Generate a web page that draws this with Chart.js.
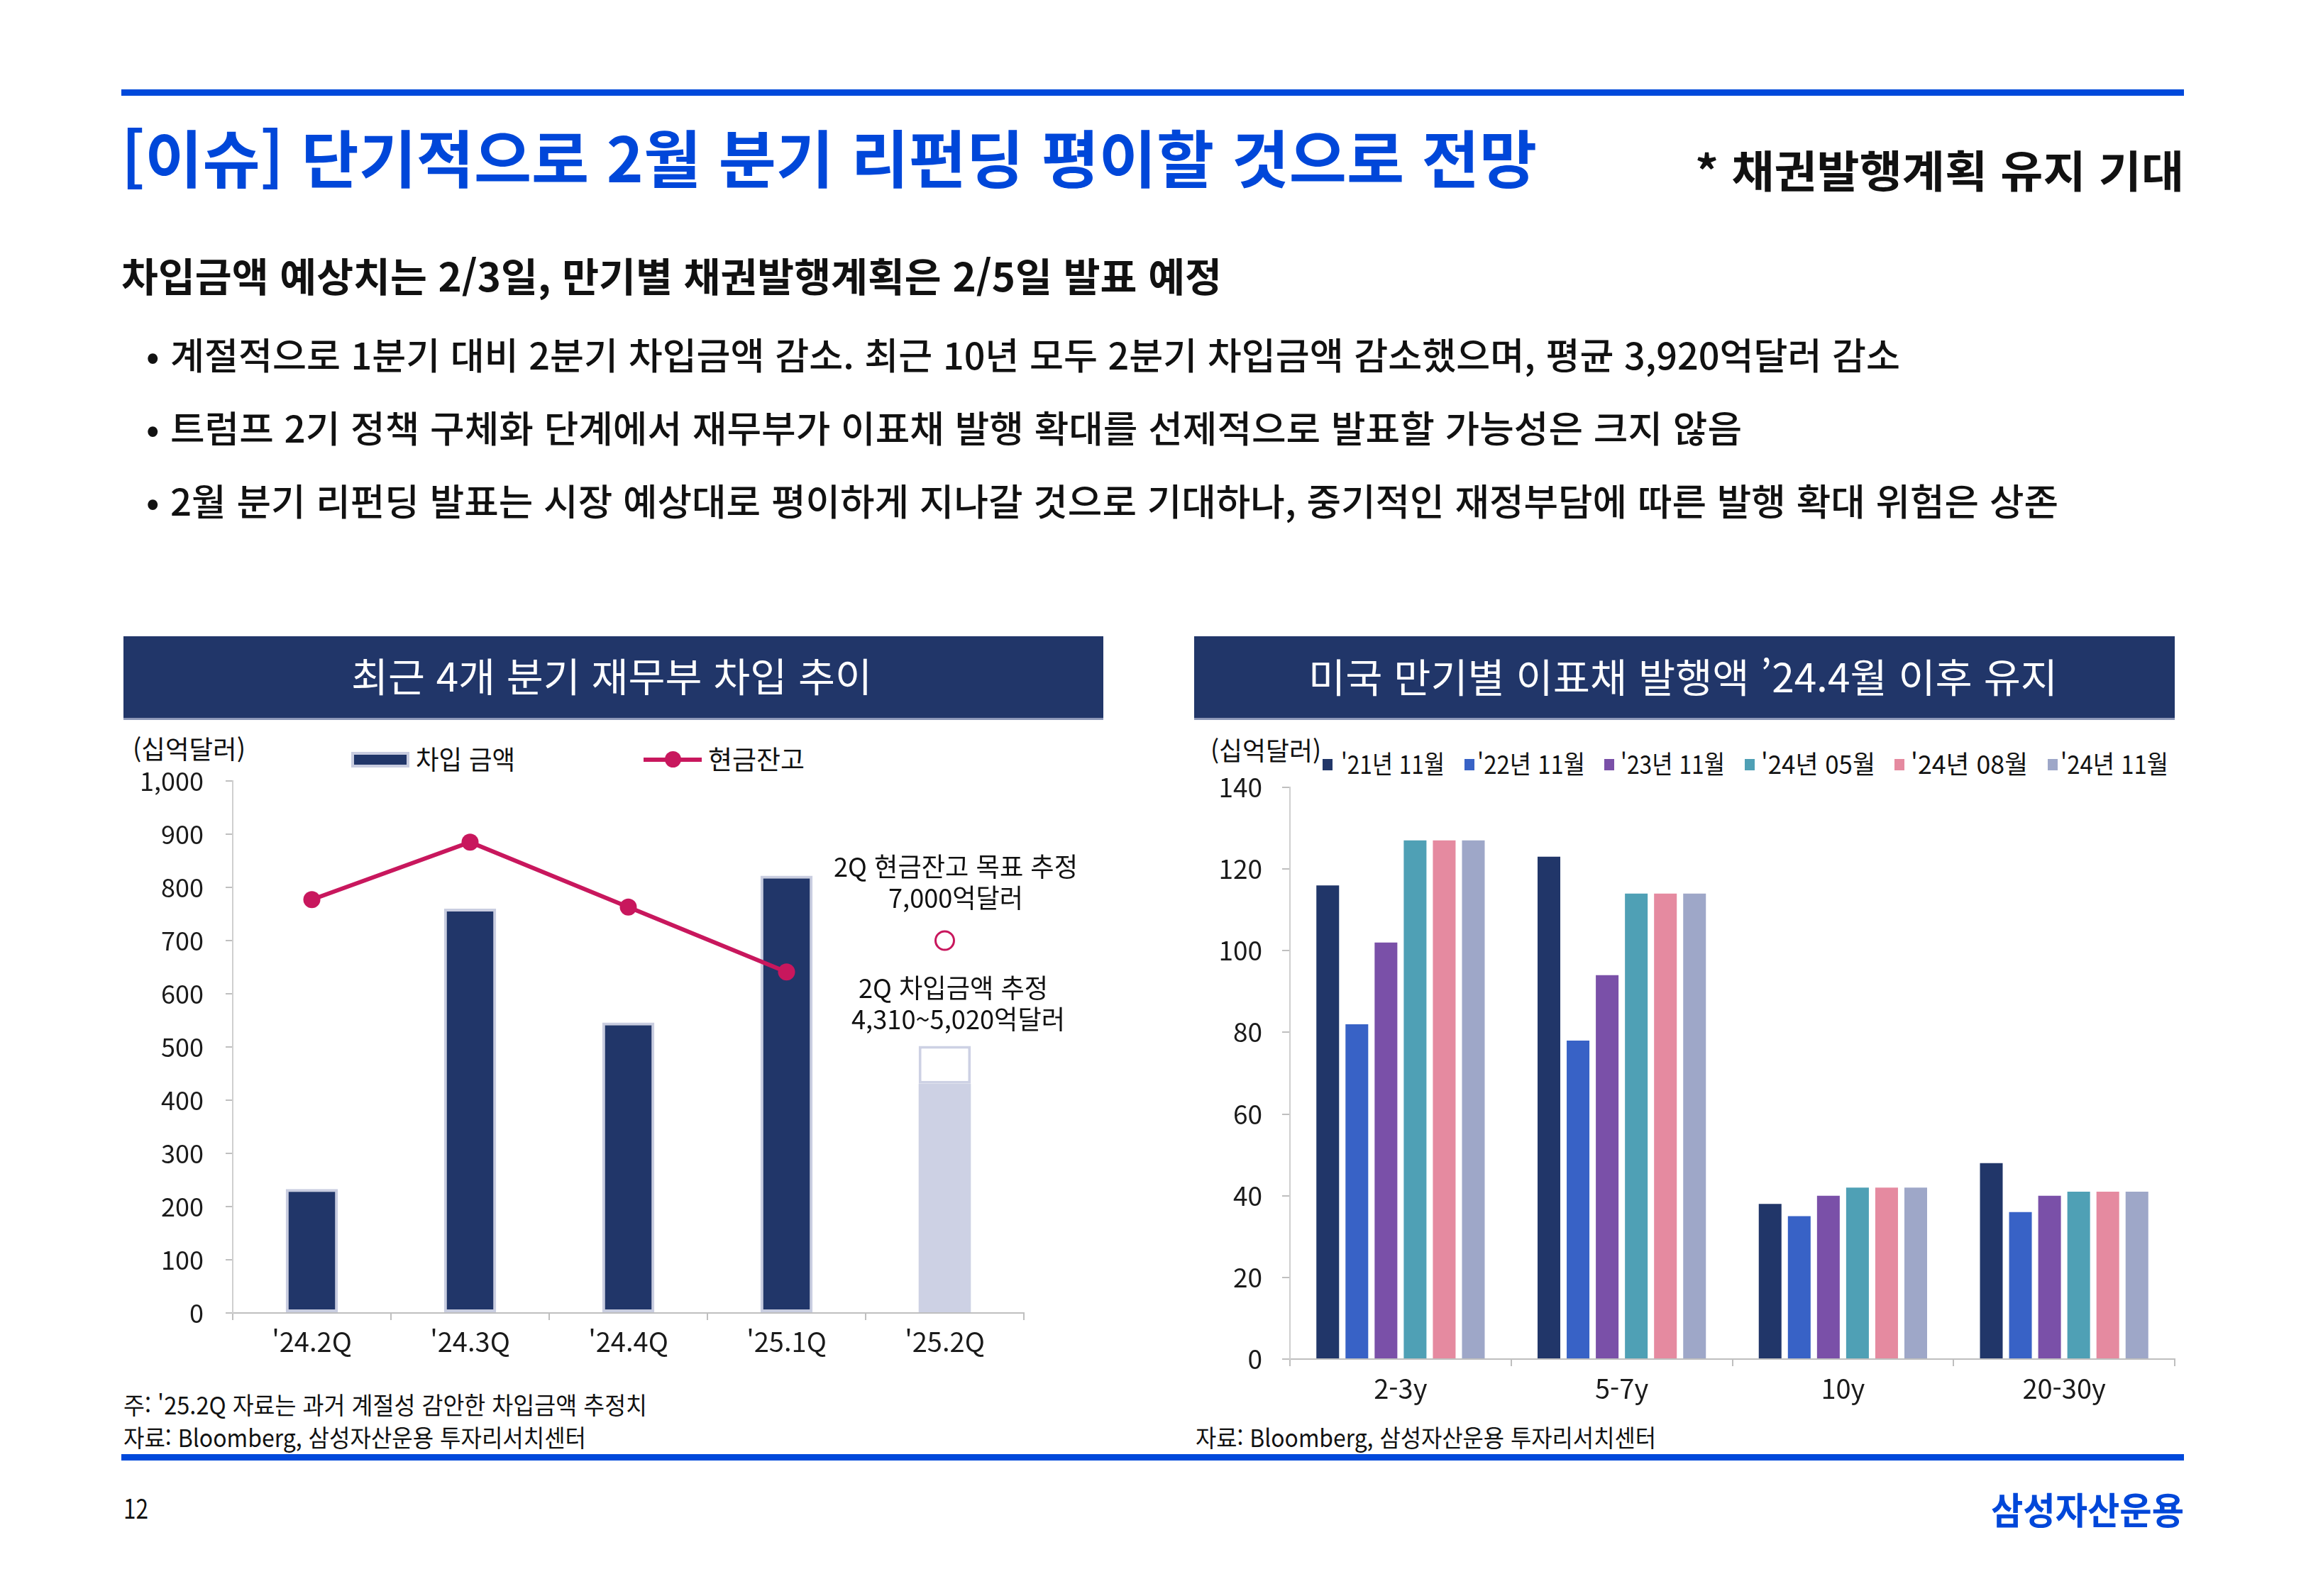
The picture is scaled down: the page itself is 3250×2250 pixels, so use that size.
<!DOCTYPE html>
<html lang="ko">
<head>
<meta charset="utf-8">
<script src="https://cdn.jsdelivr.net/npm/chart.js@4.4.1/dist/chart.umd.min.js"></script>
<style>
  html, body { margin: 0; padding: 0; }
  body { width: 3250px; height: 2250px; position: relative; overflow: hidden; background: #fff;
         font-family: 'Noto Sans CJK KR', 'Noto Sans', sans-serif; color: #111; }
  .t { position: absolute; white-space: nowrap; line-height: 1; transform-origin: 0 0; display: inline-block; }
  .rule { position: absolute; background: #0049db; }
  .box { position: absolute; background: #213669; border-bottom: 3px solid #8d98b8; box-sizing: border-box; }
  canvas { position: absolute; }
  .sq { position: absolute; width: 14px; height: 16px; }
</style>
</head>
<body>
<div class="rule" style="left:171px;top:126px;width:2907px;height:9px"></div>
<div class="t" data-x="171" data-y="223" data-w="1995" style="font-size:88px;font-weight:700;color:#0047d9">[이슈] 단기적으로 2월 분기 리펀딩 평이할 것으로 전망</div>
<div class="t" data-x="2389" data-y="241" data-w="689" style="font-size:62px;font-weight:700">* 채권발행계획 유지 기대</div>
<div class="t" data-x="171" data-y="390" data-w="1551" style="font-size:56px;font-weight:700">차입금액 예상치는 2/3일, 만기별 채권발행계획은 2/5일 발표 예정</div>

<div class="t" data-x="206" data-y="502" style="font-size:52px;font-weight:500">•</div>
<div class="t" data-x="240" data-y="502" data-w="2438" style="font-size:52px;font-weight:500">계절적으로 1분기 대비 2분기 차입금액 감소. 최근 10년 모두 2분기 차입금액 감소했으며, 평균 3,920억달러 감소</div>
<div class="t" data-x="206" data-y="605" style="font-size:52px;font-weight:500">•</div>
<div class="t" data-x="240" data-y="605" data-w="2215" style="font-size:52px;font-weight:500">트럼프 2기 정책 구체화 단계에서 재무부가 이표채 발행 확대를 선제적으로 발표할 가능성은 크지 않음</div>
<div class="t" data-x="206" data-y="708" style="font-size:52px;font-weight:500">•</div>
<div class="t" data-x="240" data-y="708" data-w="2661" style="font-size:52px;font-weight:500">2월 분기 리펀딩 발표는 시장 예상대로 평이하게 지나갈 것으로 기대하나, 중기적인 재정부담에 따른 발행 확대 위험은 상존</div>

<!-- left chart -->
<div class="box" style="left:174px;top:897px;width:1381px;height:118px"></div>
<div class="t" data-x="495" data-y="954" data-w="734" style="font-size:56px;color:#fff">최근 4개 분기 재무부 차입 추이</div>
<div class="t" data-x="187" data-y="1056" data-w="159" style="font-size:36px">(십억달러)</div>
<div style="position:absolute;left:495px;top:1060px;width:82px;height:22px;background:#213669;border:4px solid #c9cde0;box-sizing:border-box"></div>
<div class="t" data-x="586" data-y="1071" data-w="140" style="font-size:37px">차입 금액</div>
<div style="position:absolute;left:907px;top:1068px;width:82px;height:6px;background:#c8175d"></div>
<div style="position:absolute;left:937px;top:1059px;width:23px;height:23px;border-radius:50%;background:#c8175d"></div>
<div class="t" data-x="998" data-y="1071" data-w="136" style="font-size:37px">현금잔고</div>
<canvas id="leftChart" width="1381" height="900" style="left:174px;top:1020px"></canvas>
<div class="t" data-x="1175" data-y="1222" data-w="344" style="font-size:37px">2Q 현금잔고 목표 추정</div>
<div class="t" data-x="1252" data-y="1266" data-w="190" style="font-size:37px">7,000억달러</div>
<div class="t" data-x="1210" data-y="1393" data-w="267" style="font-size:37px">2Q 차입금액 추정</div>
<div class="t" data-x="1200" data-y="1437" data-w="301" style="font-size:37px">4,310~5,020억달러</div>
<div class="t" data-x="174" data-y="1982" data-w="738" style="font-size:34px">주: '25.2Q 자료는 과거 계절성 감안한 차입금액 추정치</div>
<div class="t" data-x="174" data-y="2028" data-w="652" style="font-size:34px">자료: Bloomberg, 삼성자산운용 투자리서치센터</div>

<!-- right chart -->
<div class="box" style="left:1683px;top:897px;width:1382px;height:118px"></div>
<div class="t" data-x="1844" data-y="955" data-w="1056" style="font-size:56px;color:#fff">미국 만기별 이표채 발행액 ’24.4월 이후 유지</div>
<div class="t" data-x="1706" data-y="1058" data-w="156" style="font-size:36px">(십억달러)</div>
<div id="rightLegend"></div>
<canvas id="rightChart" width="1400" height="980" style="left:1683px;top:1020px"></canvas>
<div class="t" data-x="1685" data-y="2028" data-w="649" style="font-size:34px">자료: Bloomberg, 삼성자산운용 투자리서치센터</div>

<div class="rule" style="left:171px;top:2050px;width:2907px;height:9px"></div>
<div class="t" data-x="174" data-y="2127" data-w="35" style="font-size:38px">12</div>
<div class="t" data-x="2806" data-y="2130" data-w="272" style="font-size:52px;font-weight:700;color:#0047d9">삼성자산운용</div>

<script>
// 최근 4개 분기 재무부 차입 추이 (십억달러)
const quarterLabels = ["'24.2Q", "'24.3Q", "'24.4Q", "'25.1Q", "'25.2Q"];
const borrowing = [233, 760, 546, 822, null];
const borrowLow = [null, null, null, null, 431];
const borrowHigh = [null, null, null, null, 502];
const cashBalance = [777, 885, 763, 641, null];
const cashTarget = [null, null, null, null, 700];

// 미국 만기별 이표채 발행액 (십억달러)
const maturityLabels = ['2-3y', '5-7y', '10y', '20-30y'];
const seriesNames = ["'21년 11월", "'22년 11월", "'23년 11월", "'24년 05월", "'24년 08월", "'24년 11월"];
const issue2111 = [116, 123, 38, 48];
const issue2211 = [82, 78, 35, 36];
const issue2311 = [102, 94, 40, 40];
const issue2405 = [127, 114, 42, 41];
const issue2408 = [127, 114, 42, 41];
const issue2411 = [127, 114, 42, 41];

const NAVY = '#213669';
const MAGENTA = '#c8175d';
const seriesColors = ['#213669', '#3862c6', '#7a50a8', '#4fa0b5', '#e58aa0', '#9ea7c8'];

Chart.defaults.font.family = "'Noto Sans CJK KR', 'Noto Sans', sans-serif";
Chart.defaults.color = '#1a1a1a';

// place and squeeze html text to the widths of the reference
document.querySelectorAll('.t').forEach(el => {
    let fs = parseFloat(el.style.fontSize);
    el.style.left = el.dataset.x + 'px';
    el.style.top = (parseFloat(el.dataset.y) - 0.55 * fs) + 'px';
    if (el.dataset.w) {
        let nat = el.getBoundingClientRect().width;
        el.style.transform = 'scaleX(' + (parseFloat(el.dataset.w) / nat) + ')';
    }
});

// right legend
const legendX = [1864, 2064, 2261, 2459, 2670, 2886];
const legendTextX = [1890, 2082, 2284, 2482, 2693, 2904];
const legendTextW = [146, 152, 147, 161, 165, 152];
let legendHtml = '';
seriesNames.forEach((name, i) => {
    legendHtml += '<div class="sq" style="left:' + legendX[i] + 'px;top:1070px;background:' + seriesColors[i] + '"></div>';
    legendHtml += '<div class="t" style="font-size:36px;left:' + legendTextX[i] + 'px;top:' + (1077 - 0.55 * 36) + 'px" data-w="' + legendTextW[i] + '">' + name + '</div>';
});
document.getElementById('rightLegend').innerHTML = legendHtml;
document.querySelectorAll('#rightLegend .t').forEach(el => {
    let nat = el.getBoundingClientRect().width;
    el.style.transform = 'scaleX(' + (parseFloat(el.dataset.w) / nat) + ')';
});

let borrowRange = borrowLow.map((v, i) => v == null ? null : [v, borrowHigh[i]]);

new Chart(document.getElementById('leftChart').getContext('2d'), {
    type: 'bar',
    data: {
        labels: quarterLabels,
        datasets: [
            { type: 'line', label: '현금잔고', data: cashBalance, borderColor: MAGENTA, borderWidth: 6,
              pointRadius: 12, pointBackgroundColor: MAGENTA, pointBorderWidth: 0, order: 0 },
            { type: 'line', label: '2Q 현금잔고 목표', data: cashTarget, showLine: false, pointRadius: 13,
              pointBorderWidth: 3, pointBorderColor: MAGENTA, pointBackgroundColor: '#fff', order: 0 },
            { label: '차입 금액', data: borrowing, backgroundColor: NAVY, borderColor: '#c9cde0',
              borderWidth: 4, borderSkipped: false, grouped: false, order: 1 },
            { label: '2Q 추정 하단', data: borrowLow, backgroundColor: '#cdd1e4', borderWidth: 0,
              grouped: false, order: 1 },
            { label: '2Q 추정 범위', data: borrowRange, backgroundColor: '#fff', borderColor: '#cdd1e4',
              borderWidth: 4, borderSkipped: false, grouped: false, order: 1 }
        ]
    },
    options: {
        responsive: false, animation: false, devicePixelRatio: 1,
        datasets: { bar: { barPercentage: 0.33, categoryPercentage: 1 } },
        layout: { padding: { top: 81, right: 112, left: 0, bottom: 0 } },
        plugins: { legend: { display: false }, tooltip: { enabled: false } },
        scales: {
            x: {
                grid: { drawOnChartArea: false, tickLength: 10, color: '#bfbfbf', lineWidth: 2 },
                border: { color: '#bfbfbf', width: 2 },
                ticks: { font: { size: 38 }, padding: 8 },
                afterFit: s => { s.height = 69; }
            },
            y: {
                min: 0, max: 1000,
                ticks: { stepSize: 100, font: { size: 36 }, padding: 31 },
                grid: { drawOnChartArea: false, tickLength: 10, color: '#bfbfbf', lineWidth: 2 },
                border: { color: '#cfcfcf', width: 2 },
                afterFit: s => { s.width = 154; }
            }
        }
    }
});

const issueSeries = [issue2111, issue2211, issue2311, issue2405, issue2408, issue2411];
new Chart(document.getElementById('rightChart').getContext('2d'), {
    type: 'bar',
    data: {
        labels: maturityLabels,
        datasets: issueSeries.map((vals, i) => ({
            label: seriesNames[i], data: vals, backgroundColor: seriesColors[i], borderWidth: 0
        }))
    },
    options: {
        responsive: false, animation: false, devicePixelRatio: 1,
        datasets: { bar: { barPercentage: 0.78, categoryPercentage: 0.79 } },
        layout: { padding: { top: 90, right: 18, left: 0, bottom: 0 } },
        plugins: { legend: { display: false }, tooltip: { enabled: false } },
        scales: {
            x: {
                grid: { drawOnChartArea: false, tickLength: 10, color: '#bfbfbf', lineWidth: 2 },
                border: { color: '#bfbfbf', width: 2 },
                ticks: { font: { size: 38 }, padding: 9 },
                afterFit: s => { s.height = 84; }
            },
            y: {
                min: 0, max: 140,
                ticks: { stepSize: 20, font: { size: 37 }, padding: 28 },
                grid: { drawOnChartArea: false, tickLength: 11, color: '#bfbfbf', lineWidth: 2 },
                border: { color: '#cfcfcf', width: 2 },
                afterFit: s => { s.width = 135; }
            }
        }
    }
});
</script>
</body>
</html>
